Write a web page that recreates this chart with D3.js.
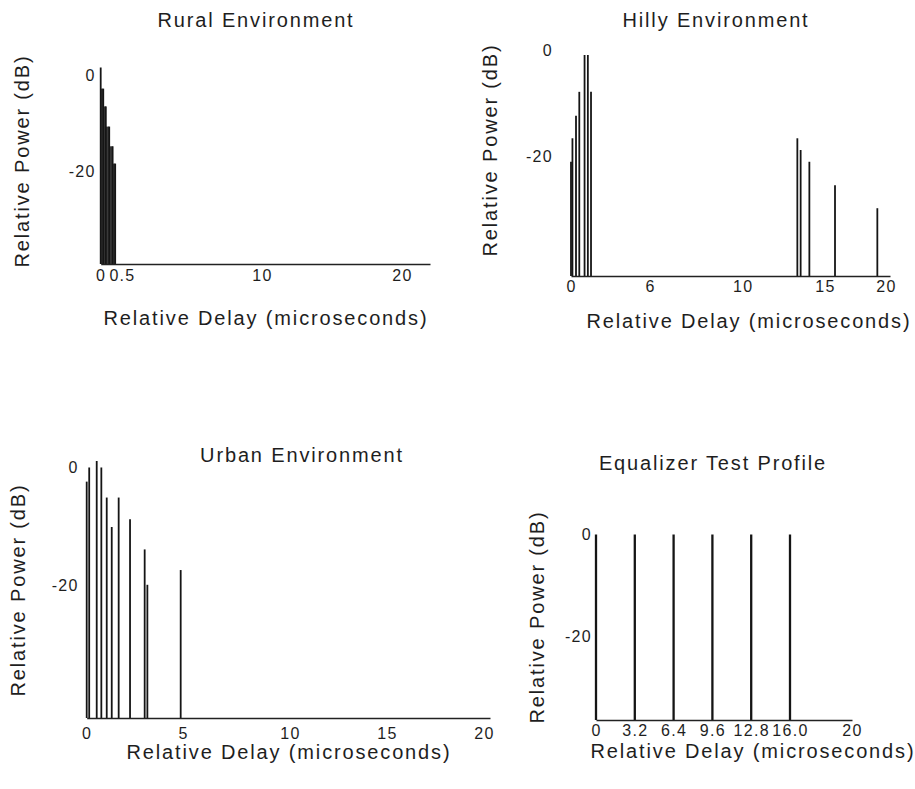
<!DOCTYPE html>
<html><head><meta charset="utf-8">
<script src="https://cdn.jsdelivr.net/npm/d3@7"></script>
<style>
body{margin:0;background:#fff;}
svg text{font-family:"Liberation Sans", Arial, Helvetica, sans-serif; fill:#1e1e1e;}
</style></head><body>
<svg id="c" width="915" height="789"></svg>
<script>
// ---------- data (in the units of each printed axis) ----------
const ruralDelay = [0, 0.06, 0.12, 0.2, 0.28, 0.34];
const ruralPower = [0, -4.4, -8.1, -12.3, -16.4, -20];
const ruralTicks = [0, 0.5, 10, 20];

const hillyDelay = [0, 0.11, 0.38, 0.63, 1.03, 1.28, 1.52, 13.32, 13.52, 14.05, 15.82, 19.29];
const hillyPower = [-20, -15.6, -11.4, -6.9, 0, 0, -6.9, -15.6, -17.8, -20, -24.4, -28.7];
const hillyTicks = [0, 6, 10, 15, 20];

const urbanDelay = [0, 0.13, 0.52, 0.76, 1.04, 1.3, 1.66, 2.25, 3.01, 3.15, 4.88];
const urbanPower = [-3.5, -1.1, 0, -1.1, -6.2, -11.2, -6.2, -9.9, -15, -21, -18.5];
const urbanTicks = [0, 5, 10, 15, 20];

const eqDelay = [0, 3.2, 6.4, 9.6, 12.8, 16.0];
const eqPower = [0, 0, 0, 0, 0, 0];
const eqTicks = [0, 3.2, 6.4, 9.6, 12.8, 16.0, 20];

const powerTicks = [0, -20];

const titles = ["Rural Environment", "Hilly Environment", "Urban Environment", "Equalizer Test Profile"];
const xTitle = "Relative Delay (microseconds)";
const yTitle = "Relative Power (dB)";

// ---------- layout ----------
const svg = d3.select("#c");
const TITLE_FS = 20, TITLE_LS = 1.85, TICK_FS = 16, TICK_LS = 1.3;

const panels = [
  { delay: ruralDelay, power: ruralPower, ticks: ruralTicks, title: titles[0], fmt: d => d === 0.5 ? "0.5" : String(d),
    xDom: [0, 0.5, 10, 20, 22], xRng: [100.7, 122, 262, 402, 430],
    yDom: [-40.9, 0], yRng: [264, 67.5], xPad: 6, yPad: 5, yDy: "0.83em", step: true,
    titlePos: [256, 27], xTitlePos: [266, 325], yTitlePos: [22, 161] },
  { delay: hillyDelay, power: hillyPower, ticks: hillyTicks, title: titles[1], fmt: d => String(d),
    xDom: [0, 6, 10, 15, 20, 20.33], xRng: [571, 650, 742.7, 825, 886, 890],
    yDom: [-41.4, 0], yRng: [276, 55], xPad: 5, yPad: 18, yDy: "0em",
    titlePos: [716, 27], xTitlePos: [749, 328], yTitlePos: [490, 150] },
  { delay: urbanDelay, power: urbanPower, ticks: urbanTicks, title: titles[2], fmt: d => String(d),
    xDom: [0, 5, 10, 15, 20, 20.3], xRng: [86.7, 183, 290, 387, 484, 490],
    yDom: [-43.6, 0], yRng: [718, 461], xPad: 10, yPad: 8, yDy: "0.7em",
    titlePos: [302, 462], xTitlePos: [289, 759], yTitlePos: [18, 590] },
  { delay: eqDelay, power: eqPower, ticks: eqTicks, title: titles[3], fmt: d => d === 16 ? "16.0" : String(d),
    xDom: [0, 16, 20], xRng: [596, 790, 852],
    yDom: [-36.3, 0], yRng: [720, 534.5], xPad: 5, yPad: 4, yDy: "0.32em", barW: 2.3,
    titlePos: [713, 470], xTitlePos: [753, 758], yTitlePos: [537, 617] }
];

panels.forEach(p => {
  const g = svg.append("g");
  const x = d3.scaleLinear().domain(p.xDom).range(p.xRng);
  const y = d3.scaleLinear().domain(p.yDom).range(p.yRng);
  const base = y(p.yDom[0]);
  const data = p.delay.map((d, i) => ({ d, v: p.power[i], i }));

  // step fill (rural profile is drawn as a filled staircase)
  if (p.step) {
    g.selectAll("rect.step").data(data.slice(1)).join("rect")
      .attr("x", d => x(p.delay[d.i - 1]))
      .attr("width", d => x(d.d) - x(p.delay[d.i - 1]))
      .attr("y", d => y(d.v))
      .attr("height", d => base - y(d.v))
      .attr("fill", "#3a3a3a");
  }
  // taps
  g.selectAll("line.tap").data(data).join("line")
    .attr("x1", d => x(d.d)).attr("x2", d => x(d.d))
    .attr("y1", base).attr("y2", d => y(d.v))
    .attr("stroke", "#151515").attr("stroke-width", p.barW || 1.8);

  // x axis
  const xa = g.append("g").attr("transform", `translate(0,${base})`)
    .call(d3.axisBottom(x).tickValues(p.ticks).tickFormat(p.fmt).tickSize(0).tickPadding(p.xPad));
  xa.select(".domain").attr("stroke", "#222").attr("stroke-width", 1.4);
  xa.selectAll("text").attr("font-size", TICK_FS).attr("font-family", null)
    .attr("letter-spacing", TICK_LS).attr("fill", "#1e1e1e");

  // y axis (labels only)
  const ya = g.append("g").attr("transform", `translate(${x(0)},0)`)
    .call(d3.axisLeft(y).tickValues(powerTicks).tickFormat(d => String(d)).tickSize(0).tickPadding(p.yPad));
  ya.select(".domain").remove();
  ya.selectAll("text").attr("font-size", TICK_FS).attr("font-family", null).attr("dy", p.yDy)
    .attr("letter-spacing", TICK_LS).attr("fill", "#1e1e1e");

  // titles
  const txt = (sel) => sel.attr("text-anchor", "middle").attr("font-size", TITLE_FS).attr("letter-spacing", TITLE_LS);
  g.append("text").attr("x", p.titlePos[0]).attr("y", p.titlePos[1]).call(txt).text(p.title);
  g.append("text").attr("x", p.xTitlePos[0]).attr("y", p.xTitlePos[1]).call(txt).text(xTitle);
  g.append("text").attr("transform", `translate(${p.yTitlePos[0]},${p.yTitlePos[1]}) rotate(-90)`)
    .attr("dominant-baseline", "central").call(txt).text(yTitle);
});
</script>
</body></html>
